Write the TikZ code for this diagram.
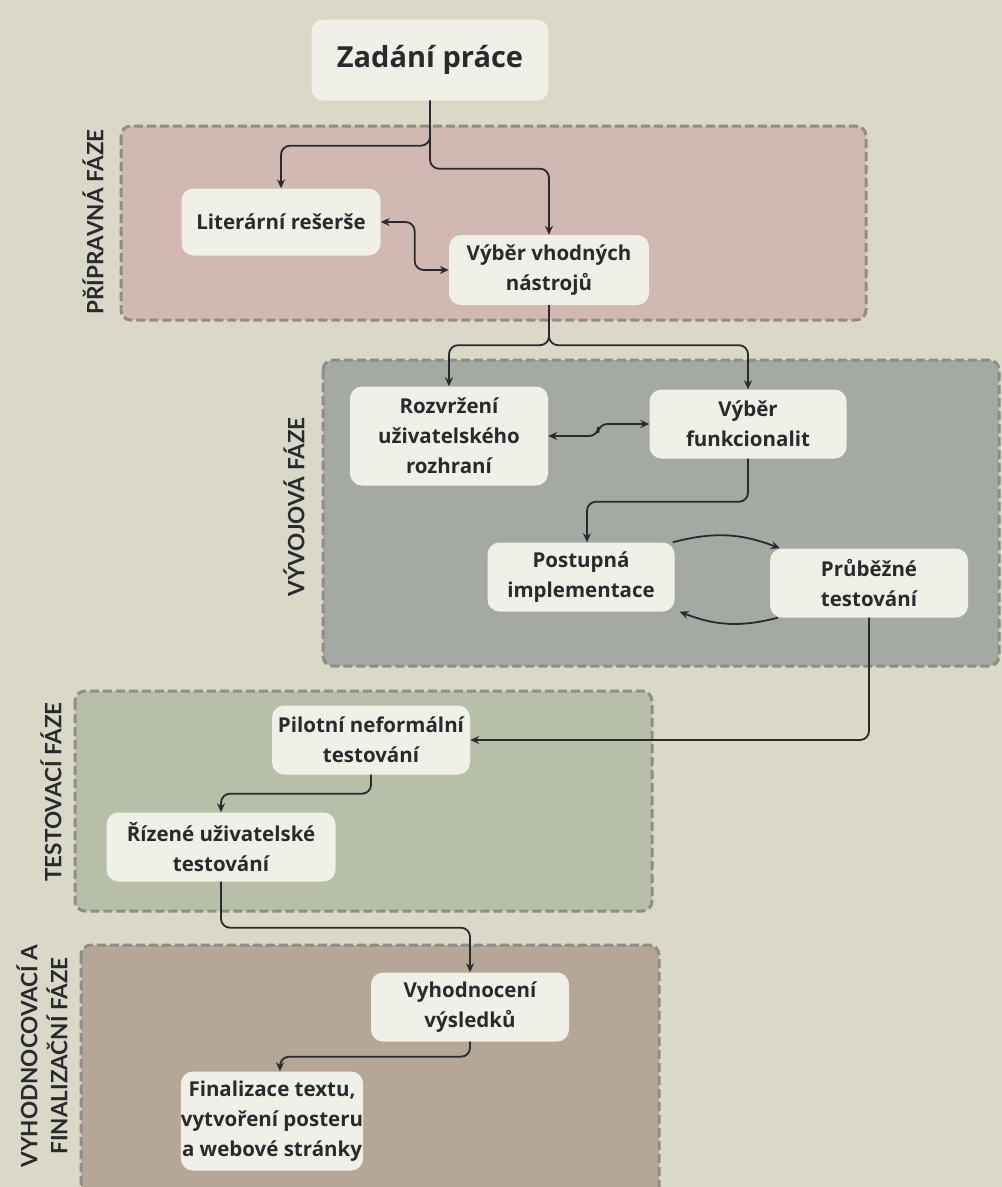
\documentclass[tikz,border=0pt]{standalone}
\usepackage{fontspec}
\setmainfont{Open Sans}
\newfontfamily\labelfont{Lato}
\usetikzlibrary{arrows.meta}

\definecolor{bgcol}{HTML}{DAD8C9}
\definecolor{boxcol}{HTML}{F1F0E8}
\definecolor{linecol}{HTML}{2A2A2E}
\definecolor{dashcol}{HTML}{8E8E86}
\definecolor{prepcol}{HTML}{D1B8B3}
\definecolor{devcol}{HTML}{A4AAA3}
\definecolor{testcol}{HTML}{B8BFA8}
\definecolor{evalcol}{HTML}{B5A797}

\begin{document}
\begin{tikzpicture}[
      x=1pt, y=-1pt,
      phasebox/.style = {draw=dashcol, line width=3pt, dash pattern=on 9pt off 4pt, rounded corners=10pt},
      phaselabel/.style = {rotate=90, font=\labelfont\fontsize{22.5}{30}\selectfont\bfseries, text=linecol, align=center},
      stepbox/.style = {fill=boxcol, rounded corners=12pt, align=center, inner sep=0pt,
                        font=\fontsize{20.5}{30}\selectfont\bfseries, text=linecol},
      flow/.style = {draw=linecol, line width=1.8pt, rounded corners=9pt, -{Stealth[length=9pt,width=8pt]}},
      both/.style = {flow, {Stealth[length=9pt,width=8pt]}-{Stealth[length=9pt,width=8pt]}},
      loop/.style = {draw=linecol, line width=1.8pt, -{Stealth[length=9pt,width=8pt]}}
      ]
      \clip (0,0) rectangle (1002,1187);
      \fill[bgcol] (0,0) rectangle (1002,1187);

      % phases
      \path[phasebox, fill=prepcol] (121,126) rectangle (866,320);
      \path[phasebox, fill=devcol] (323,360) rectangle (999,666);
      \path[phasebox, fill=testcol] (75,691) rectangle (652,911);
      \path[phasebox, fill=evalcol] (81,945) rectangle (659,1210);

      \node[phaselabel] (lprep) at (93,222) {PŘÍPRAVNÁ FÁZE};
      \node[phaselabel] (ldev) at (294,507) {VÝVOJOVÁ FÁZE};
      \node[phaselabel] (ltest) at (51,792) {TESTOVACÍ FÁZE};
      \node[phaselabel] (leval) at (42,1056) {VYHODNOCOVACÍ A\\FINALIZAČNÍ FÁZE};

      % steps
      \node[stepbox, minimum width=237pt, minimum height=81pt, font=\fontsize{29}{36}\selectfont\bfseries] (zadani) at (430,60) {Zadání práce};
      \node[stepbox, minimum width=199pt, minimum height=67pt] (lit) at (281,222) {Literární rešerše};
      \node[stepbox, minimum width=200pt, minimum height=70pt] (nastroje) at (549,270) {Výběr vhodných\\nástrojů};
      \node[stepbox, minimum width=198pt, minimum height=99pt] (rozhrani) at (449,436) {Rozvržení\\uživatelského\\rozhraní};
      \node[stepbox, minimum width=197pt, minimum height=69pt] (funkce) at (748,424) {Výběr\\funkcionalit};
      \node[stepbox, minimum width=187pt, minimum height=69pt] (impl) at (581,577) {Postupná\\implementace};
      \node[stepbox, minimum width=198pt, minimum height=69pt] (prubtest) at (869,583) {Průběžné\\testování};
      \node[stepbox, minimum width=198pt, minimum height=69pt] (pilot) at (371,740) {Pilotní neformální\\testování};
      \node[stepbox, minimum width=229pt, minimum height=69pt] (rizene) at (221,847) {Řízené uživatelské\\testování};
      \node[stepbox, minimum width=198pt, minimum height=69pt] (vyhod) at (470,1007) {Vyhodnocení\\výsledků};
      \node[stepbox, minimum width=182pt, minimum height=99pt] (final) at (272,1121) {Finalizace textu,\\vytvoření posteru\\a webové stránky};

      % connectors
      \path[flow] (zadani.south) -- ++(0,45) -| (lit.north);
      \path[flow] (zadani.south) -- ++(0,68) -| (nastroje.north);
      \path[both] (lit.east) -- ++(34,0) |- (nastroje.west);
      \path[flow] (nastroje.south) -- ++(0,40) -| (rozhrani.north);
      \path[flow] (nastroje.south) -- ++(0,40) -| (funkce.north);
      \path[both] (rozhrani.east) -- ++(50,0) |- (funkce.west);
      \path[flow] (funkce.south) -- ++(0,43) -| ([xshift=6pt]impl.north);
      \path[loop] ([xshift=-2pt]impl.north east) to[bend left=18] ([xshift=10pt]prubtest.north west);
      \path[loop] ([xshift=8pt]prubtest.south west) to[bend left=18] ([xshift=5pt]impl.south east);
      \path[flow] (prubtest.south) |- (pilot.east);
      \path[flow] (pilot.south) -- ++(0,19) -| (rizene.north);
      \path[flow] (rizene.south) -- ++(0,46) -| (vyhod.north);
      \path[flow] (vyhod.south) -- ++(0,15) -| ([xshift=8pt]final.north);
\end{tikzpicture}
\end{document}
